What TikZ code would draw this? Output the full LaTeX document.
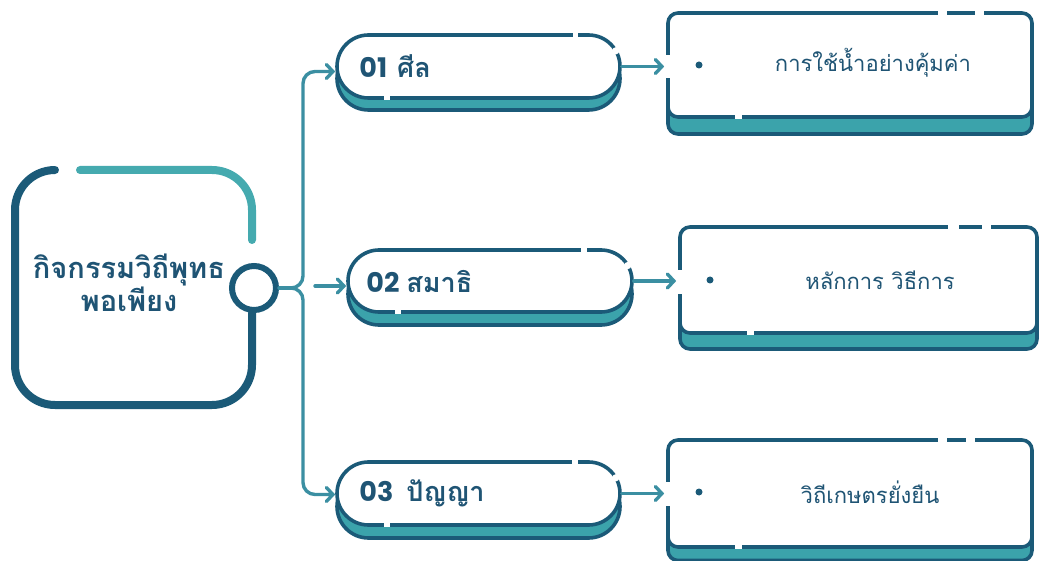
\documentclass[tikz,border=0pt]{standalone}
\usepackage{fontspec}
\usetikzlibrary{arrows.meta,shapes.misc}
\newfontfamily\thai[Script=Thai]{Loma}
\newfontfamily\numf{Poppins}
\definecolor{dk}{HTML}{1B5A78}
\definecolor{tl}{HTML}{3BA3AB}
\definecolor{tltop}{HTML}{45AAAF}
\definecolor{cn}{HTML}{3B8FA2}
\definecolor{tx}{HTML}{1F5474}
\tikzset{
  pill/.style={rounded rectangle, draw=dk, line width=3.6pt, fill=white, inner sep=0pt},
  pillsh/.style={rounded rectangle, draw=dk, line width=3.6pt, fill=tl, inner sep=0pt},
  card/.style={draw=dk, line width=3.6pt, fill=white, rounded corners=10pt, inner sep=0pt},
  cardsh/.style={draw=dk, line width=3.6pt, fill=tl, rounded corners=10pt, inner sep=0pt},
  conn/.style={draw=cn, line width=3.4pt, line cap=round, line join=round},
  arr/.style={conn, -{Straight Barb[length=6.5pt, width=14pt, line width=3.4pt, line cap=round]}},
  lab/.style={text=tx, anchor=west, inner sep=0pt},
  boxtxt/.style={text=tx, inner sep=0pt, font=\thai\fontsize{22}{25}\selectfont},
  bullet/.style={circle, fill=dk, minimum size=7pt, inner sep=0pt},
}
\begin{document}
\begin{tikzpicture}[x=1pt, y=-1pt, line cap=round]
\useasboundingbox (0,0) rectangle (1039,561);

% ---------- main box ----------
\draw[dk, line width=8pt, rounded corners=40pt] (55,170) -- (15,170) -- (15,405) -- (252,405) -- (252,313);
\draw[tltop, line width=8pt, rounded corners=40pt] (80,170) -- (252,170) -- (252,240);
\node[circle, draw=dk, line width=6pt, fill=white, minimum size=44pt, inner sep=0pt] (hubc) at (254,288) {};
\node[text=tx, align=center, inner sep=0pt, font=\thai\bfseries\fontsize{29}{28}\selectfont] (title) at (129,283) {กิจกรรมวิถีพุทธ\\พอเพียง};

% ---------- pills ----------
\node[pillsh, minimum width=283pt, minimum height=63pt] (p1s) at (478.5,78.5) {};
\node[pill, minimum width=283pt, minimum height=63pt] (p1) at (478.5,66.5) {};
\node[pillsh, minimum width=284pt, minimum height=62pt] (p2s) at (490,294) {};
\node[pill, minimum width=284pt, minimum height=62pt] (p2) at (490,281) {};
\node[pillsh, minimum width=283pt, minimum height=63pt] (p3s) at (478.5,506.5) {};
\node[pill, minimum width=283pt, minimum height=63pt] (p3) at (478.5,493.5) {};

% pill decorative gaps
\fill[white] (573,32) rectangle (578,39);
\fill[white] (615.8,50.8) circle (3.6pt);
\fill[white] (384,96.2) rectangle (390,99.8);
\fill[white] (581,247) rectangle (587,254);
\fill[white] (627.8,265.5) circle (3.6pt);
\fill[white] (395,310.2) rectangle (401,313.8);
\fill[white] (572,459) rectangle (578,466);
\fill[white] (615.8,477.8) circle (3.6pt);
\fill[white] (384,523.2) rectangle (390,526.8);

\node[lab] (p1t) at ([xshift=24pt]p1.west) {{\numf\bfseries\fontsize{27}{30}\selectfont 01}\hspace{10pt}{\thai\bfseries\fontsize{27}{30}\selectfont ศีล}};
\node[lab] (p2t) at ([xshift=20pt]p2.west) {{\numf\bfseries\fontsize{27}{30}\selectfont 02}\hspace{7pt}{\thai\bfseries\fontsize{27}{30}\selectfont สมาธิ}};
\node[lab] (p3t) at ([xshift=24pt]p3.west) {{\numf\bfseries\fontsize{27}{30}\selectfont 03}\hspace{13pt}{\thai\bfseries\fontsize{27}{30}\selectfont ปัญญา}};

% ---------- cards ----------
\node[cardsh, minimum width=364pt, minimum height=104pt] (b1s) at (850,82) {};
\node[card, minimum width=364pt, minimum height=104pt] (b1) at (850,65) {};
\node[cardsh, minimum width=357pt, minimum height=106pt] (b2s) at (858.5,296) {};
\node[card, minimum width=357pt, minimum height=106pt] (b2) at (858.5,280) {};
\node[cardsh, minimum width=364pt, minimum height=107pt] (b3s) at (850,507) {};
\node[card, minimum width=364pt, minimum height=107pt] (b3) at (850,493.5) {};

% card decorative gaps
\fill[white] (938,9) rectangle (947,17);
\fill[white] (975,9) rectangle (984,17);
\fill[white] (735,115.2) rectangle (742,118.8);
\fill[white] (664,55) rectangle (672,78);
\fill[white] (948,223) rectangle (959,231);
\fill[white] (982,223) rectangle (991,231);
\fill[white] (747,331.2) rectangle (754,334.8);
\fill[white] (676,270) rectangle (684,294);
\fill[white] (938,436) rectangle (947,444);
\fill[white] (966,436) rectangle (975,444);
\fill[white] (735,545.2) rectangle (742,548.8);
\fill[white] (664,482) rectangle (672,506);

\node[bullet] (d1) at (699,65) {};
\node[bullet] (d2) at (710,280) {};
\node[bullet] (d3) at (699,492) {};
\node[boxtxt] (t1) at (873,63) {การใช้น้ำอย่างคุ้มค่า};
\node[boxtxt] (t2) at (880,280) {หลักการ วิธีการ};
\node[boxtxt] (t3) at (870,492) {วิถีเกษตรยั่งยืน};

% ---------- connectors ----------
\coordinate (hub) at (291,288);
\coordinate (mid) at (315,286);
\draw[conn] (hubc.east) -- (hub);
\draw[arr] (hub) to[out=0,in=-90] ++(12,-12) [rounded corners=12pt] |- ([yshift=-5pt]p1.west);
\draw[arr] (hub) to[out=0,in=90] ++(12,12) [rounded corners=12pt] |- ([yshift=-1pt]p3.west);
\draw[arr] (mid) -- (mid -| p2.west);
\draw[arr] (p1.east) -- ([xshift=-2pt]p1.east -| b1.west);
\draw[arr] (p2.east) -- ([xshift=-2pt]p2.east -| b2.west);
\draw[arr] (p3.east) -- ([xshift=-2pt]p3.east -| b3.west);
\end{tikzpicture}
\end{document}
